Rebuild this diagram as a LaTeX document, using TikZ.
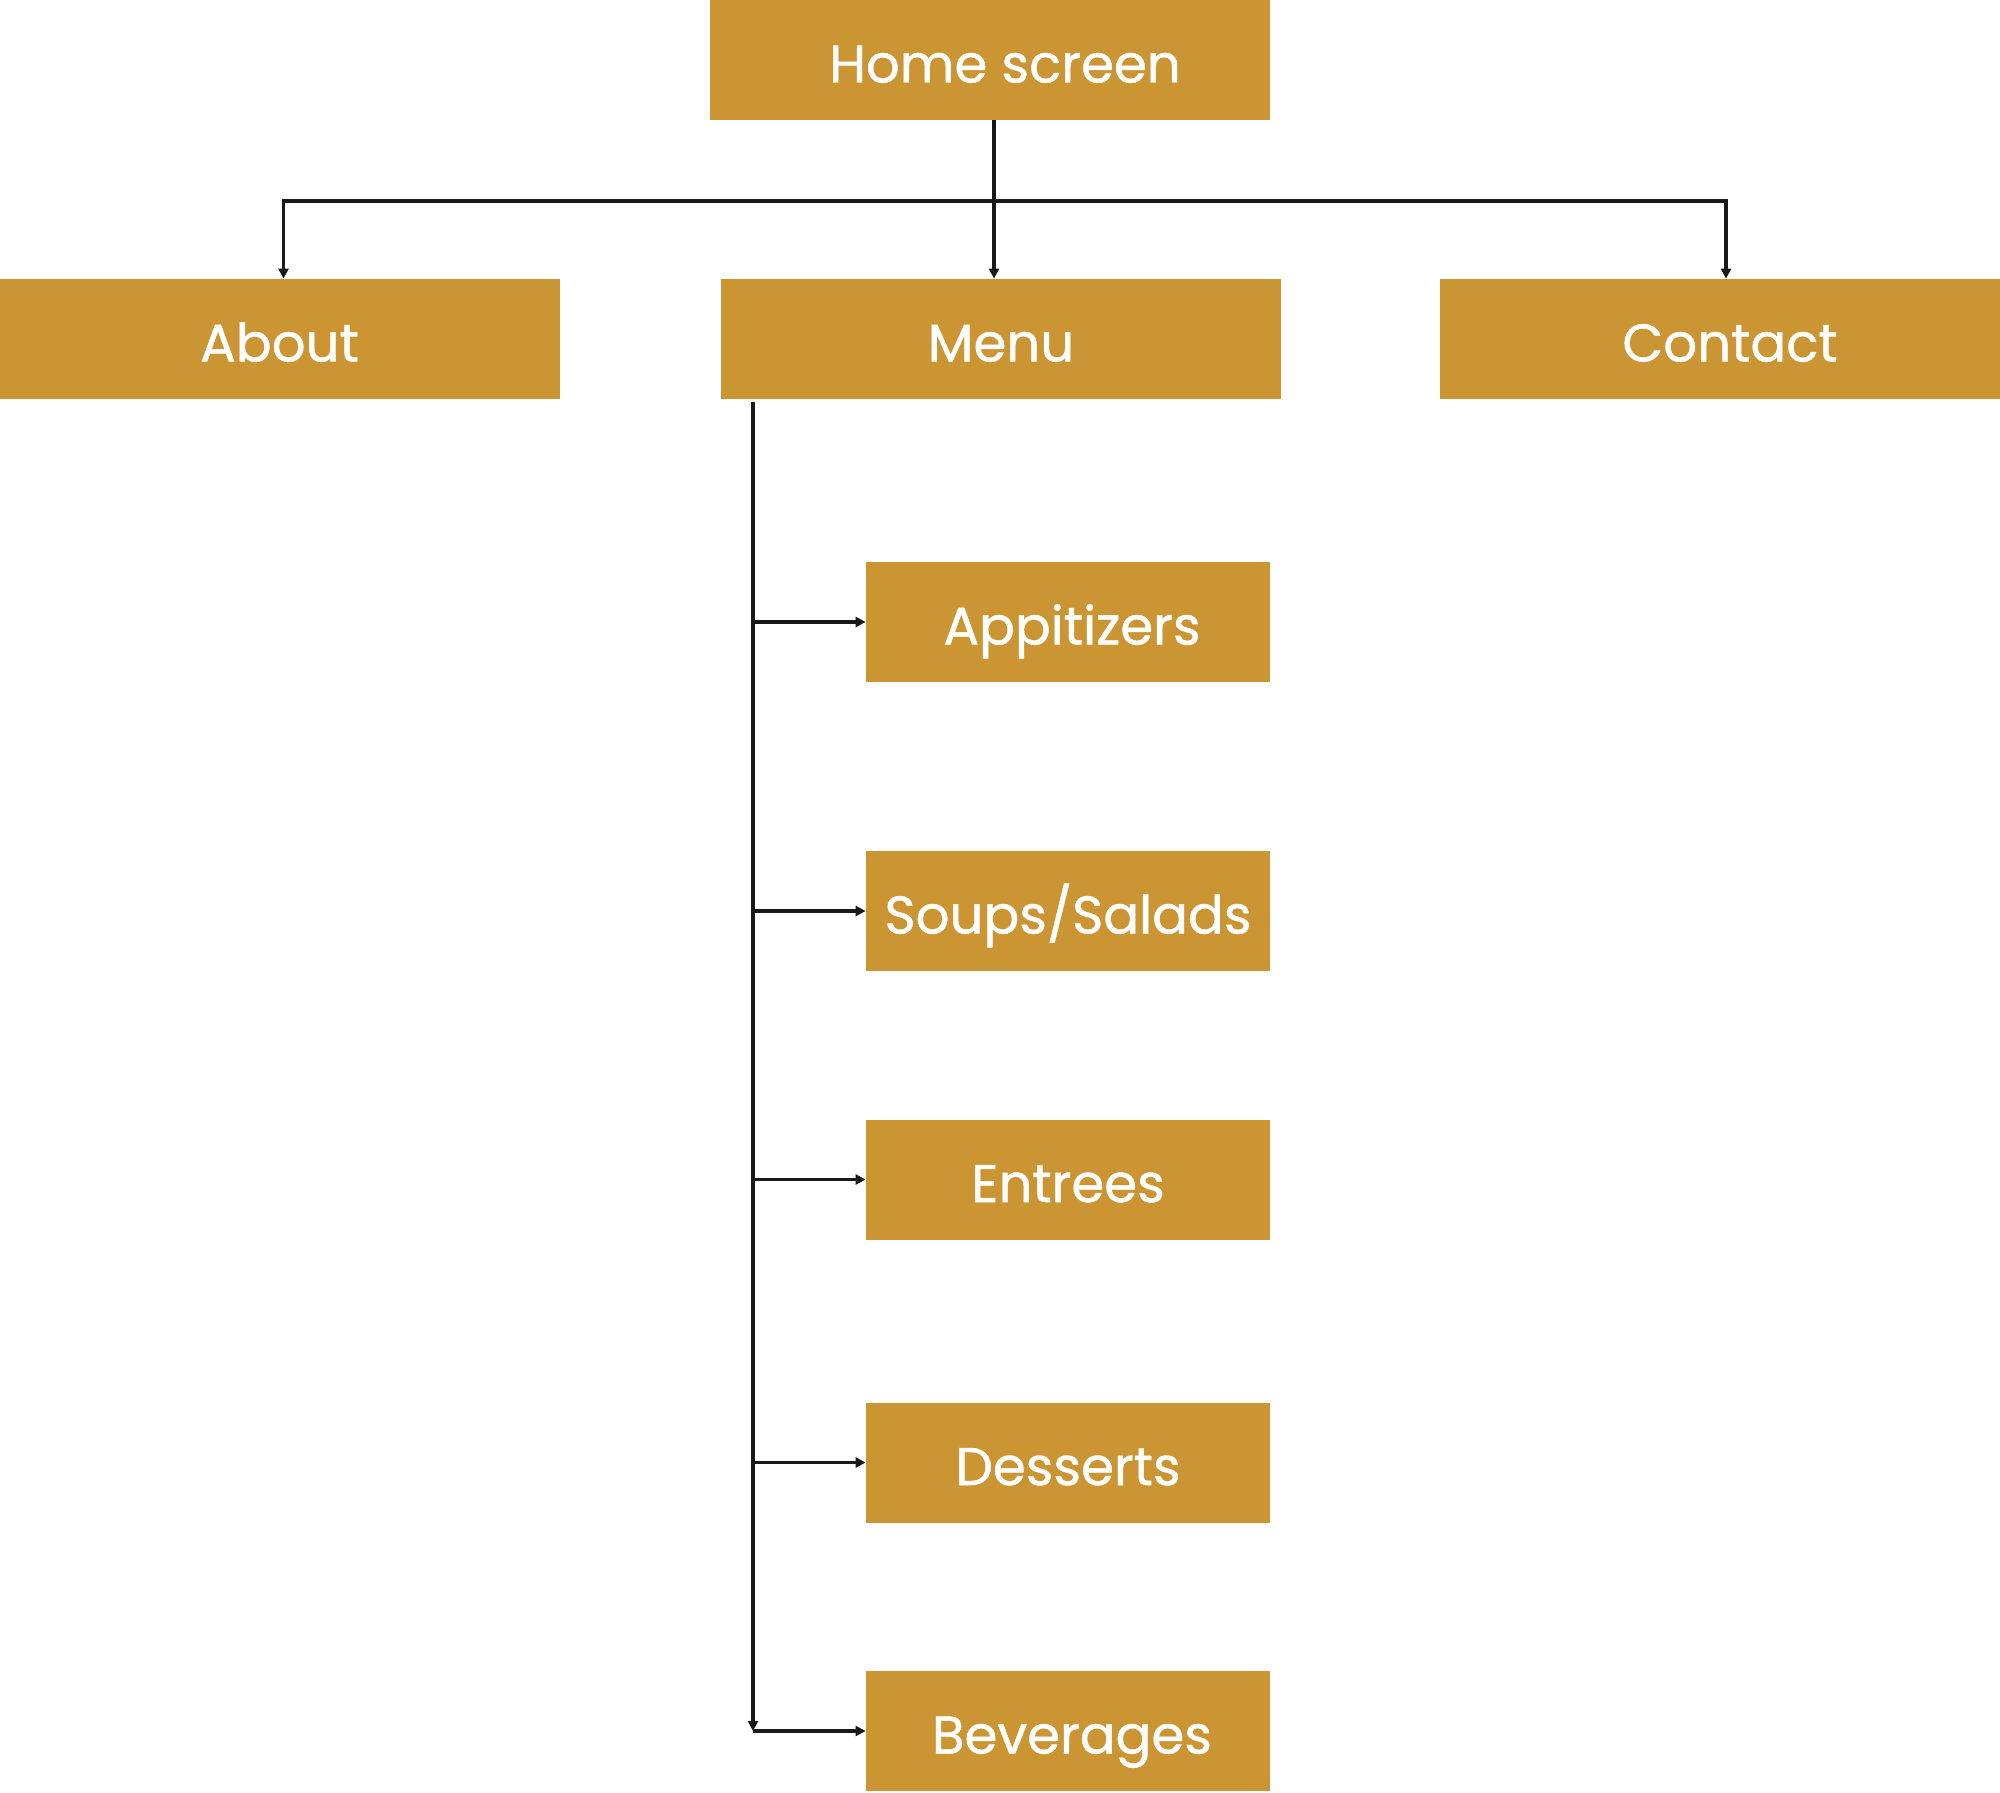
\documentclass[tikz,border=0pt]{standalone}
\usepackage{fontspec}
\setmainfont{Poppins}
\newfontfamily\labelfont{Poppins}[FakeBold=0.9]
\usetikzlibrary{arrows.meta}
\definecolor{gold}{HTML}{CC9533}
\tikzset{
  box/.style={fill=gold, draw=none, text=white, inner sep=0pt, font=\labelfont\fontsize{26.5pt}{30pt}\selectfont, text height=22.5pt, text depth=0pt, anchor=center},
  wide/.style={box, minimum width=280pt, minimum height=60pt},
  sub/.style={box, minimum width=202pt, minimum height=60pt},
  link/.style={draw=black!90, line width=1.6pt},
  arr/.style={link, -{Triangle[length=5pt,width=5pt]}},
}
\begin{document}
\begin{tikzpicture}[x=0.5pt,y=-0.5pt]
\useasboundingbox (0,0) rectangle (2000,1792);
\node[wide] (home) at (990,60) {\hspace*{15pt}Home screen};
\node[wide] (about) at (279.5,339) {About};
\node[wide] (menu) at (1001,339) {Menu};
\node[wide] (contact) at (1720,339) {\hspace*{10pt}Contact};
\node[sub] (app) at (1068,622) {\hspace*{4pt}Appitizers};
\node[sub] (soups) at (1068,911) {Soups/Salads};
\node[sub] (entrees) at (1068,1179.5) {Entrees};
\node[sub] (desserts) at (1068,1462.5) {Desserts};
\node[sub] (bev) at (1068,1731) {\hspace*{4pt}Beverages};
\coordinate (hub) at (994,201);
\coordinate (spinetop) at (753,402);
\coordinate (spinebot) at (753,1731);
\draw[link, line width=2.2pt] (hub |- home.south) -- (hub);
\draw[arr] (hub) -| ([xshift=2pt]about.north);
\draw[arr] (hub) -- (hub |- menu.north);
\draw[arr] (hub) -| ([xshift=3pt]contact.north);
\draw[arr] (spinetop) -- (spinebot);
\foreach \n in {app,soups,entrees,desserts,bev}
  \draw[arr] (spinetop |- \n.west) -- (\n.west);
\end{tikzpicture}
\end{document}
